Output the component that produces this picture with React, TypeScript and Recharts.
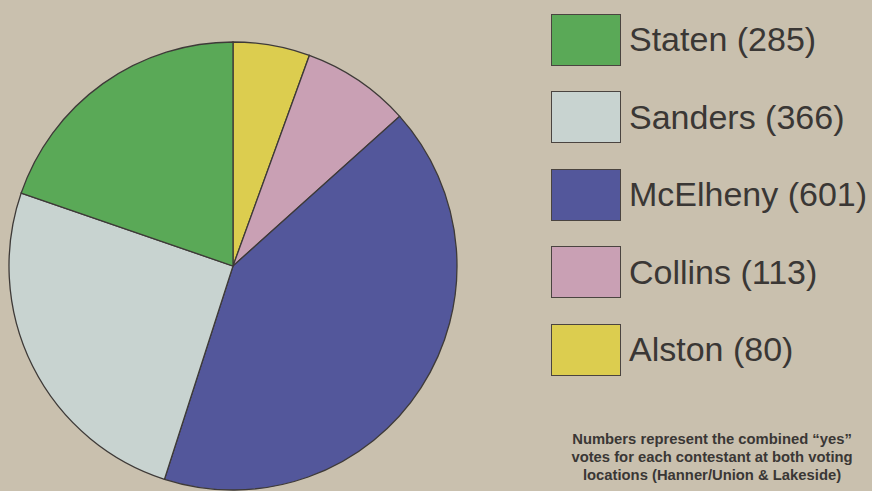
import React from "react";
import { PieChart, Pie, Cell, Legend } from "recharts";

const candidates = ["Alston", "Collins", "McElheny", "Sanders", "Staten"];
const votes = [80, 113, 601, 366, 285];
const colors = ["#dccd4f", "#c9a0b4", "#53579b", "#c8d3d0", "#5aa957"];
const legendOrder = ["Staten", "Sanders", "McElheny", "Collins", "Alston"];
const noteLines = [
  "Numbers represent the combined \u201cyes\u201d",
  "votes for each contestant at both voting",
  "locations (Hanner/Union & Lakeside)",
];

const data = candidates.map((name, i) => ({ name, value: votes[i], color: colors[i] }));

const W = 872;
const H = 491;

function LegendContent() {
  return (
    <div style={{ fontFamily: "'Liberation Sans', Arial, sans-serif" }}>
      {legendOrder.map((name) => {
        const d = data.find((x) => x.name === name)!;
        return (
          <div
            key={name}
            style={{ display: "flex", alignItems: "center", height: 53, marginBottom: 24.5 }}
          >
            <div
              style={{
                width: 70,
                height: 52,
                background: d.color,
                border: "1.5px solid #4a4440",
                boxSizing: "border-box",
              }}
            />
            <div
              style={{
                marginLeft: 8,
                fontSize: 34,
                color: "#3a3735",
                whiteSpace: "nowrap",
                lineHeight: "53px",
              }}
            >
              {`${d.name} (${d.value})`}
            </div>
          </div>
        );
      })}
    </div>
  );
}

export default function App() {
  return (
    <div
      style={{
        position: "fixed",
        left: 0,
        top: 0,
        width: W,
        height: H,
        background: "#c9c0ae",
        overflow: "hidden",
      }}
    >
      <PieChart width={W} height={H} margin={{ top: 0, right: 0, bottom: 0, left: 0 }}>
        <Pie
          data={data}
          dataKey="value"
          nameKey="name"
          cx={233}
          cy={266}
          outerRadius={224}
          startAngle={90}
          endAngle={-270}
          stroke="#3e3a38"
          strokeWidth={1.3}
          isAnimationActive={false}
        >
          {data.map((d) => (
            <Cell key={d.name} fill={d.color} />
          ))}
        </Pie>
        <Legend
          content={<LegendContent />}
          wrapperStyle={{ position: "absolute", left: 551, top: 13, width: 320 }}
        />
      </PieChart>
      <div
        style={{
          position: "absolute",
          left: 552,
          top: 430,
          width: 320,
          textAlign: "center",
          fontFamily: "'Liberation Sans', Arial, sans-serif",
          fontWeight: "bold",
          fontSize: 14.8,
          lineHeight: "18px",
          color: "#3a3735",
        }}
      >
        {noteLines.map((l) => (
          <div key={l}>{l}</div>
        ))}
      </div>
    </div>
  );
}
